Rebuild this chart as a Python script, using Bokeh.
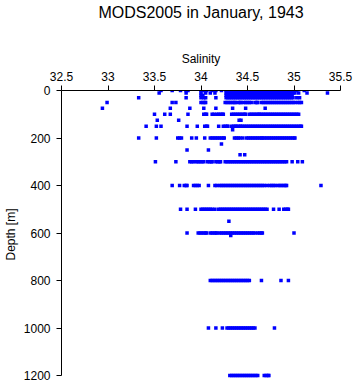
from bokeh.plotting import figure
from bokeh.models import (Range1d, FixedTicker, LinearAxis, CustomJSTickFormatter,
                          ColumnDataSource)
from bokeh.embed import file_html
from bokeh.resources import INLINE

title_text = "MODS2005 in January, 1943"
x_label = "Salinity"
y_label = "Depth [m]"
x_ticks = [32.5, 33.0, 33.5, 34.0, 34.5, 35.0, 35.5]
y_ticks = [0, 200, 400, 600, 800, 1000, 1200]

depths = [0, 10, 20, 30, 50, 75, 100, 125, 150, 165, 200, 225, 250, 270, 300,
          400, 500, 550, 600, 610, 800, 1000, 1200]

s_0 = [33.57, 33.69, 33.78, 33.84, 33.86, 34.00, 34.02, 34.04, 34.06, 34.12, 34.16, 34.22,
       34.27, 34.29, 34.31, 34.33, 34.35, 34.37, 34.39, 34.41, 34.43, 34.45, 34.47, 34.49,
       34.51, 34.53, 34.55, 34.57, 34.59, 34.61, 34.63, 34.65, 34.67, 34.69, 34.71, 34.73,
       34.75, 34.77, 34.79, 34.81, 34.83, 34.85, 34.87, 34.89, 34.91, 34.93, 34.95, 34.97,
       34.99, 35.00, 35.03, 35.11]
s_10 = [33.55, 33.84, 34.00, 34.05, 34.10, 34.15,
        34.27, 34.29, 34.31, 34.33, 34.35, 34.37, 34.39, 34.41, 34.43, 34.45, 34.47, 34.49,
        34.51, 34.53, 34.55, 34.57, 34.59, 34.61, 34.63, 34.65, 34.67, 34.69, 34.71, 34.73,
        34.75, 34.77, 34.79, 34.81, 34.83, 34.85, 34.87, 34.89, 34.91, 34.93, 34.95, 34.97,
        34.99, 35.01, 35.05, 35.14, 35.36]
s_20 = [34.00, 34.02,
        34.27, 34.29, 34.31, 34.33, 34.35, 34.37, 34.39, 34.41, 34.43, 34.45, 34.47, 34.49,
        34.51, 34.53, 34.55, 34.57, 34.59, 34.61, 34.63, 34.65, 34.67, 34.69, 34.71, 34.73,
        34.75, 34.77, 34.79, 34.81, 34.83, 34.85, 34.87, 34.89, 34.91, 34.93, 34.95, 34.97,
        34.98]
s_30 = [33.33, 33.84, 34.00, 34.03, 34.05, 34.16,
        34.27, 34.29, 34.31, 34.33, 34.35, 34.37, 34.39, 34.41, 34.43, 34.45, 34.47, 34.49,
        34.51, 34.53, 34.55, 34.57, 34.59, 34.61, 34.63, 34.65, 34.67, 34.69, 34.71, 34.73,
        34.75, 34.77, 34.79, 34.81, 34.83, 34.85, 34.87, 34.89, 34.91, 34.93, 34.95, 34.97,
        34.99, 35.03, 35.06]
s_50 = [32.99, 33.69, 33.73, 34.00, 34.02, 34.04, 34.05,
        34.26, 34.28, 34.30, 34.32, 34.34, 34.36, 34.37, 34.40, 34.42, 34.43,
        34.46, 34.48, 34.50, 34.52, 34.54, 34.58, 34.60, 34.61,
        34.65, 34.67, 34.69, 34.71, 34.73, 34.75, 34.77, 34.79, 34.81, 34.83, 34.85, 34.87,
        34.89, 34.91, 34.93, 34.95, 34.97, 34.99, 35.01, 35.04, 35.06, 35.08]
s_75 = [32.94, 33.67, 33.88, 34.03, 34.16, 34.34, 34.48, 34.69]
s_100 = [33.50, 33.61, 33.67, 33.86, 34.03, 34.05, 34.06, 34.12, 34.14, 34.17, 34.19, 34.21,
         34.23, 34.24, 34.33, 34.35, 34.37, 34.39, 34.41, 34.43, 34.45, 34.47, 34.48,
         34.52, 34.54, 34.56, 34.58, 34.60, 34.62, 34.63,
         34.65, 34.67, 34.69, 34.71, 34.73, 34.75, 34.77, 34.79, 34.81, 34.83, 34.85, 34.87,
         34.89, 34.91, 34.93, 34.95, 34.97, 34.99, 35.01, 35.03, 35.05]
s_125 = [33.53, 33.76, 34.41, 34.43]
s_150 = [33.41, 33.52, 33.57, 33.85, 33.96, 34.04, 34.06, 34.07, 34.19, 34.24, 34.26, 34.28,
         34.29, 34.33, 34.35, 34.37, 34.38, 34.40, 34.42, 34.43,
         34.45, 34.47, 34.49, 34.51, 34.53, 34.55, 34.57, 34.59, 34.61, 34.63, 34.65, 34.67,
         34.69, 34.71, 34.73, 34.75, 34.77, 34.79, 34.81, 34.83, 34.85, 34.87, 34.89, 34.91,
         34.93, 34.95, 34.97, 34.99, 35.01, 35.03, 35.05, 35.07, 35.08]
s_165 = [34.34]
s_200 = [33.33, 33.52, 33.75, 33.77, 33.79, 33.90, 33.95, 34.04,
         34.10, 34.12, 34.14, 34.16, 34.18, 34.20, 34.22, 34.24, 34.25,
         34.36, 34.38, 34.40, 34.42, 34.45,
         34.49, 34.51, 34.53, 34.55, 34.57, 34.59, 34.61, 34.63, 34.65, 34.66, 34.68, 34.70,
         34.72, 34.74, 34.76, 34.78, 34.80, 34.82, 34.84, 34.86, 34.88, 34.90, 34.92, 34.94,
         34.96, 34.98, 35.00, 35.01]
s_225 = [34.22]
s_250 = [33.85, 34.08]
s_270 = [34.42, 34.47]
s_300 = [33.51, 33.73, 33.88, 33.90, 33.92, 33.95, 33.97, 33.99, 34.01, 34.03, 34.07, 34.09,
         34.11, 34.12, 34.16, 34.18, 34.20, 34.21,
         34.26, 34.28, 34.30, 34.32, 34.34, 34.36, 34.38, 34.40, 34.42, 34.44, 34.46, 34.48,
         34.50, 34.52, 34.54, 34.56, 34.58, 34.60, 34.62, 34.64, 34.66, 34.68, 34.70, 34.72,
         34.74, 34.76, 34.78, 34.80, 34.82, 34.84, 34.86, 34.88, 34.90, 34.92,
         34.98, 35.04, 35.09]
s_400 = [33.69, 33.77, 33.82, 33.84, 33.85, 33.92, 33.94, 33.96, 33.98, 34.08, 34.15, 34.17,
         34.20, 34.22, 34.24, 34.26, 34.28, 34.30, 34.32, 34.34, 34.36, 34.38, 34.40, 34.42,
         34.44, 34.46, 34.48, 34.50, 34.52, 34.54, 34.56, 34.58, 34.60, 34.62, 34.64,
         34.66, 34.68, 34.71, 34.74, 34.76, 34.78, 34.80, 34.83, 34.85, 34.87, 34.89, 34.91,
         34.92, 35.29]
s_500 = [33.78, 33.85, 33.94, 34.00, 34.02, 34.04, 34.06, 34.08, 34.10, 34.12, 34.15,
         34.19, 34.21, 34.23, 34.25, 34.27, 34.29, 34.31, 34.33, 34.35, 34.37, 34.39, 34.41,
         34.43, 34.45, 34.47, 34.49, 34.51, 34.53, 34.55, 34.57, 34.59, 34.61, 34.63, 34.65,
         34.67, 34.69, 34.71, 34.78, 34.84, 34.89, 34.91, 34.93, 34.94]
s_550 = [34.30]
s_600 = [33.85, 33.97, 33.99, 34.01, 34.03, 34.05, 34.06, 34.10, 34.12, 34.14, 34.16, 34.17,
         34.20, 34.22, 34.24, 34.26, 34.28, 34.30, 34.32, 34.34, 34.36, 34.38, 34.40, 34.42,
         34.44, 34.46, 34.48, 34.50, 34.52, 34.54, 34.56, 34.58,
         34.61, 34.63, 34.65, 34.66, 35.00]
s_610 = [34.32]
s_800 = [34.10, 34.12, 34.14, 34.16, 34.18, 34.20, 34.22, 34.24, 34.26, 34.28, 34.30, 34.32,
         34.34, 34.36, 34.38, 34.40, 34.42, 34.44, 34.46, 34.48, 34.50, 34.52,
         34.65, 34.86, 34.94]
s_1000 = [34.08, 34.16, 34.23, 34.28, 34.30, 34.32, 34.34, 34.36, 34.38, 34.40, 34.42, 34.44,
          34.46, 34.48, 34.50, 34.52, 34.54, 34.56, 34.58, 34.79]
s_1200 = [34.31, 34.33, 34.35, 34.37, 34.39, 34.41, 34.43, 34.45, 34.47, 34.49, 34.51, 34.53,
          34.55, 34.57, 34.59, 34.61, 34.68, 34.70, 34.72, 34.73]

salinity_by_depth = [s_0, s_10, s_20, s_30, s_50, s_75, s_100, s_125, s_150, s_165, s_200,
                     s_225, s_250, s_270, s_300, s_400, s_500, s_550, s_600, s_610, s_800,
                     s_1000, s_1200]

xs, ys = [], []
for d, vals in zip(depths, salinity_by_depth):
    for v in vals:
        xs.append(v)
        ys.append(d)
src = ColumnDataSource(dict(sal=xs, depth=ys))

FONT = "Liberation Sans"

p = figure(width=353, height=384, output_backend="svg", toolbar_location=None,
           x_range=Range1d(32.5, 35.5), y_range=Range1d(1212.6, 0),
           x_axis_location=None, y_axis_location=None,
           min_border_left=54, min_border_right=13, min_border_top=0, min_border_bottom=6)
p.title = None
p.outline_line_color = None
p.xgrid.visible = False
p.ygrid.visible = False
p.background_fill_color = "white"
p.border_fill_color = "white"

fmt = CustomJSTickFormatter(code="return tick.toString();")

xa = LinearAxis(ticker=FixedTicker(ticks=x_ticks), formatter=fmt, axis_label=x_label)
xa.major_tick_out = 5
xa.major_tick_in = 0
xa.minor_tick_out = 0
xa.minor_tick_in = 0
xa.major_label_standoff = 5
xa.axis_label_standoff = 3
xa.major_label_text_font = FONT
xa.major_label_text_font_size = "12px"
xa.major_label_text_color = "black"
xa.axis_label_text_font = FONT
xa.axis_label_text_font_size = "12px"
xa.axis_label_text_font_style = "normal"
xa.axis_label_text_color = "black"
xa.axis_line_color = "black"
xa.major_tick_line_color = "black"
p.add_layout(xa, "above")

# chart title, carried by an empty outer axis stacked above the Salinity axis
ta = LinearAxis(ticker=FixedTicker(ticks=[]), axis_label=title_text)
ta.major_tick_out = 0
ta.major_tick_in = 0
ta.minor_tick_out = 0
ta.minor_tick_in = 0
ta.major_label_standoff = 0
ta.axis_line_color = None
ta.axis_label_standoff = 28
ta.axis_label_text_font = FONT
ta.axis_label_text_font_size = "16px"
ta.axis_label_text_font_style = "normal"
ta.axis_label_text_color = "black"
p.add_layout(ta, "above")

ya = LinearAxis(ticker=FixedTicker(ticks=y_ticks), formatter=fmt, axis_label=y_label,
                bounds=(0, 1200))
ya.major_tick_out = 5
ya.major_tick_in = 0
ya.minor_tick_out = 0
ya.minor_tick_in = 0
ya.major_label_standoff = 6
ya.axis_label_standoff = 3
ya.major_label_text_font = FONT
ya.major_label_text_font_size = "12px"
ya.major_label_text_color = "black"
ya.axis_label_text_font = FONT
ya.axis_label_text_font_size = "12px"
ya.axis_label_text_font_style = "normal"
ya.axis_label_text_color = "black"
ya.axis_line_color = "black"
ya.major_tick_line_color = "black"
p.add_layout(ya, "left")

p.scatter("sal", "depth", source=src, marker="square", size=3.5,
          fill_color="#0000ff", line_color=None)

open("out.html", "w").write(file_html(p, INLINE))
